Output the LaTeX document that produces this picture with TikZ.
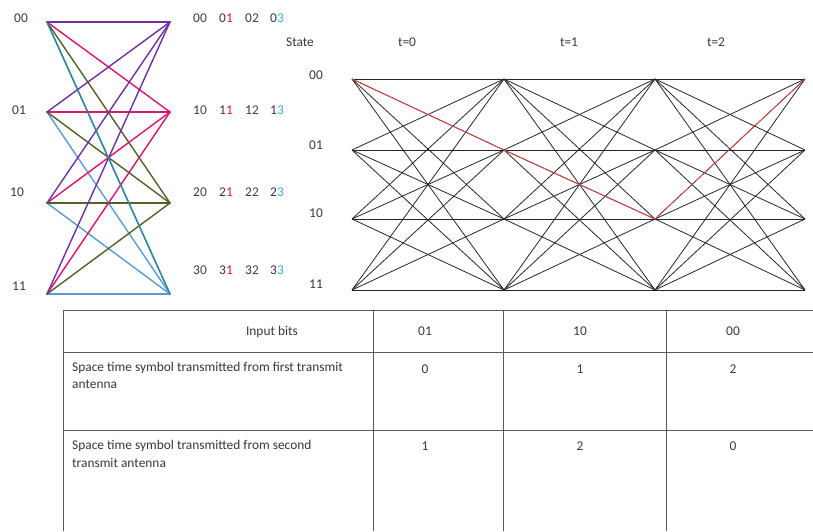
\documentclass[tikz,border=0pt]{standalone}
\usepackage{fontspec}
\setmainfont{Carlito}
\definecolor{tpurple}{HTML}{7030A0}
\definecolor{tpink}{HTML}{E0116F}
\definecolor{tolive}{HTML}{4F6228}
\definecolor{tblue}{HTML}{5B9BD5}
\definecolor{tteal}{HTML}{31859C}
\definecolor{txt}{HTML}{3A3444}
\definecolor{dA}{HTML}{4A3F5C}
\definecolor{dB}{HTML}{D6105A}
\definecolor{dC}{HTML}{3D4A30}
\definecolor{dD}{HTML}{35B5D8}
\definecolor{redp}{HTML}{E04848}
\definecolor{tabline}{HTML}{5A5A5A}
\begin{document}
\begin{tikzpicture}[x=1pt,y=-1pt,
  lab/.style={inner sep=0pt, text height=8.4pt, text depth=0pt, font=\fontsize{13.4}{15}\selectfont, text=txt},
  edgeL/.style={line width=1.4pt, line cap=round},
  edgeR/.style={line width=0.8pt, draw=black!85},
  redpath/.style={line width=0.8pt, draw=redp},
  tab/.style={line width=1pt, draw=tabline}]
\useasboundingbox (0,0) rectangle (813,531);
% left trellis
\foreach \n/\y in {0/22,1/112,2/203,3/294}{
  \coordinate (L\n) at (47,\y);
  \coordinate (R\n) at (170,\y);
}
\foreach \d/\col in {3/tblue,2/tolive,1/tpink,0/tpurple}{
  \foreach \s in {0,...,3}{
    \draw[edgeL,draw=\col] (L\s) -- (R\d);
  }
}
\draw[edgeL,draw=tteal] (L0) -- (R3);
\node[lab] (ls0) at (21,18) {00};
\node[lab] (ls1) at (19,110) {01};
\node[lab] (ls2) at (17,192) {10};
\node[lab] (ls3) at (19,286) {11};
\foreach \r/\y in {0/18,1/110,2/192,3/270}{
  \foreach \c/\x/\cc in {0/200/dA,1/226/dB,2/252/dC,3/277/dD}{
    \node[lab] (o\r\c) at (\x,\y) {\r\textcolor{\cc}{\c}};
  }
}
% right trellis
\foreach \i/\x in {1/352,2/504,3/655,4/805}{
  \foreach \j/\y in {0/79,1/150,2/219,3/290}{
    \coordinate (c\i\j) at (\x,\y);
  }
}
\foreach \i/\k in {1/2,2/3,3/4}{
  \foreach \a in {0,...,3}{
    \foreach \b in {0,...,3}{
      \draw[edgeR] (c\i\a) -- (c\k\b);
    }
  }
}
\draw[redpath] (c10) -- (c21) -- (c32) -- (c40);
\node[lab] (st) at (300,42) {State};
\node[lab] (t0) at (407,42) {t=0};
\node[lab] (t1) at (569,42) {t=1};
\node[lab] (t2) at (716,42) {t=2};
\node[lab] (s0) at (316,75) {00};
\node[lab] (s1) at (316,145) {01};
\node[lab] (s2) at (316,213) {10};
\node[lab] (s3) at (316,284) {11};
% table
\draw[tab] (63,531) -- (63,310) -- (813,310);
\draw[tab] (63,352) -- (813,352);
\draw[tab] (63,430) -- (813,430);
\foreach \x in {373,503,666}{\draw[tab] (\x,310) -- (\x,531);}
\node[lab] (hin) at (272,331) {Input bits};
\node[lab] (h1) at (425,331) {01};
\node[lab] (h2) at (580,331) {10};
\node[lab] (h3) at (733,331) {00};
\node[lab,anchor=west] (r1a) at (72,367) {Space time symbol transmitted from first transmit};
\node[lab,anchor=west] (r1b) at (72,384) {antenna};
\node[lab] (v11) at (425,369) {0};
\node[lab] (v12) at (580,369) {1};
\node[lab] (v13) at (733,369) {2};
\node[lab,anchor=west] (r2a) at (72,445) {Space time symbol transmitted from second};
\node[lab,anchor=west] (r2b) at (72,463) {transmit antenna};
\node[lab] (v21) at (425,446) {1};
\node[lab] (v22) at (580,446) {2};
\node[lab] (v23) at (733,446) {0};
\end{tikzpicture}
\end{document}
